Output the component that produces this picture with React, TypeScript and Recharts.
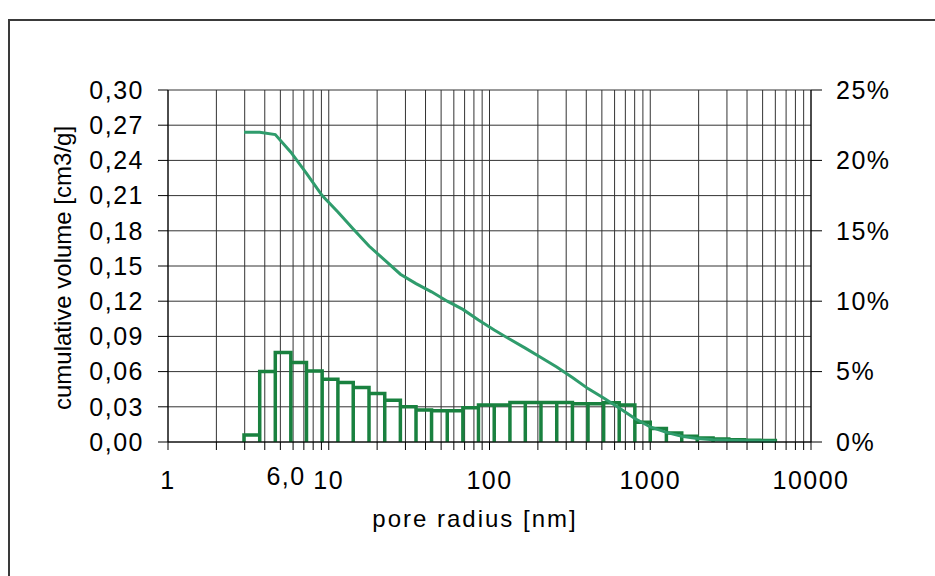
import { ComposedChart, Line, XAxis, YAxis, CartesianGrid } from "recharts";

// bin edges of the pore size histogram [nm]
const binEdges = [
  2.97, 3.72, 4.65, 5.81, 7.27, 9.1, 11.4, 14.2, 17.8, 22.3, 27.9, 34.9, 43.6, 54.6, 68.3, 85.4, 107, 134,
  167, 209, 262, 328, 410, 513, 641, 802, 1000, 1260, 1570, 1960, 2460, 3080, 3850, 4810, 6000,
];

// relative volume per bin [%]
const binPercent = [
  0.5, 5.0, 6.35, 5.65, 5.05, 4.46, 4.23, 3.87, 3.45, 2.97, 2.5, 2.27, 2.22, 2.22, 2.43, 2.63, 2.63, 2.81,
  2.81, 2.81, 2.81, 2.71, 2.71, 2.78, 2.63, 1.4, 0.96, 0.64, 0.4, 0.28, 0.21, 0.16, 0.13, 0.1,
];

// cumulative volume at each bin edge [cm3/g]
const cumulativeVolume = [
  0.264, 0.264, 0.262, 0.247, 0.229, 0.21, 0.196, 0.1815, 0.167, 0.155, 0.143, 0.135, 0.128, 0.12, 0.113,
  0.104, 0.0955, 0.0875, 0.08, 0.072, 0.064, 0.055, 0.0455, 0.0375, 0.029, 0.02, 0.0128, 0.0082, 0.0048,
  0.003, 0.002, 0.0015, 0.0011, 0.0008, 0.0006,
];

const xTicks = [
  1, 2, 3, 4, 5, 6, 7, 8, 9, 10, 20, 30, 40, 50, 60, 70, 80, 90, 100, 200, 300, 400, 500, 600, 700, 800, 900,
  1000, 2000, 3000, 4000, 5000, 6000, 7000, 8000, 9000, 10000,
];
const xLabelled = [1, 10, 100, 1000, 10000];
const leftTicks = [0, 0.03, 0.06, 0.09, 0.12, 0.15, 0.18, 0.21, 0.24, 0.27, 0.3];
const rightTicks = [0, 5, 10, 15, 20, 25];
const modeLabel = { at: 6, text: "6,0" };

const FONT = '"Liberation Sans", Arial, sans-serif';
const BAR_COLOR = "#19813f";
const LINE_COLOR = "#2f9c6c";

const lineData = binEdges.map((r, i) => ({ r, vol: cumulativeVolume[i] }));

// hollow histogram bars as one outline: up the left edge, across, down the right edge
const barOutline = binPercent.flatMap((p, i) => [
  { r: binEdges[i], pct: 0 },
  { r: binEdges[i], pct: p },
  { r: binEdges[i + 1], pct: p },
  { r: binEdges[i + 1], pct: 0 },
]);

function XTick(props: any) {
  const { x, y, payload } = props;
  const v = payload.value;
  if (v === modeLabel.at) {
    return (
      <text x={x - 7} y={y} dy={31} textAnchor="middle" fontSize={25} fontFamily={FONT} fill="#000" letterSpacing={1.5}>
        {modeLabel.text}
      </text>
    );
  }
  if (!xLabelled.includes(v)) return null;
  return (
    <text x={x} y={y} dy={35} textAnchor="middle" fontSize={25} fontFamily={FONT} fill="#000" letterSpacing={1.5}>
      {v}
    </text>
  );
}

function YTitle() {
  return (
    <text
      x={62}
      y={268}
      transform="rotate(-90 62 268)"
      textAnchor="middle"
      dominantBaseline="central"
      fontSize={24}
      fontFamily={FONT}
      fill="#000"
    >
      cumulative volume [cm3/g]
    </text>
  );
}

function XTitle() {
  return (
    <text x={475} y={527} textAnchor="middle" fontSize={24} fontFamily={FONT} fill="#000" letterSpacing={2}>
      pore radius [nm]
    </text>
  );
}

export default function App() {
  return (
    <div style={{ position: "absolute", left: 0, top: 0, width: 935, height: 576, overflow: "hidden", background: "#fff" }}>
      <div
        style={{
          position: "absolute",
          left: 8,
          top: 19,
          width: 1000,
          height: 1000,
          border: "2px solid #3a3a3a",
        }}
      />
      <div style={{ position: "absolute", left: 0, top: 0 }}>
        <ComposedChart width={935} height={576} margin={{ top: 90, right: 0, bottom: 0, left: 0 }}>
          <CartesianGrid yAxisId="left" stroke="#333" strokeWidth={1} />
          <XAxis
            dataKey="r"
            type="number"
            scale="log"
            domain={[1, 10000]}
            ticks={xTicks}
            interval={0}
            allowDataOverflow
            height={134}
            tickSize={8}
            tickMargin={4}
            stroke="#000"
            tick={<XTick />}
            label={<XTitle />}
          />
          <YAxis
            yAxisId="left"
            domain={[0, 0.3]}
            ticks={leftTicks}
            interval={0}
            width={168}
            tickSize={10}
            tickMargin={14}
            stroke="#000"
            tick={{ fontSize: 25, fill: "#000", fontFamily: FONT, letterSpacing: 1.5 }}
            tickFormatter={(v: number) => v.toFixed(2).replace(".", ",")}
            label={<YTitle />}
          />
          <YAxis
            yAxisId="right"
            orientation="right"
            domain={[0, 25]}
            ticks={rightTicks}
            interval={0}
            width={124}
            tickSize={11}
            tickMargin={14}
            stroke="#000"
            tick={{ fontSize: 25, fill: "#000", fontFamily: FONT, letterSpacing: 1.5 }}
            tickFormatter={(v: number) => `${v}%`}
          />
          <Line
            yAxisId="right"
            data={barOutline}
            dataKey="pct"
            type="linear"
            stroke={BAR_COLOR}
            strokeWidth={3.5}
            strokeLinejoin="miter"
            dot={false}
            activeDot={false}
            isAnimationActive={false}
          />
          <Line
            yAxisId="left"
            data={lineData}
            dataKey="vol"
            type="linear"
            stroke={LINE_COLOR}
            strokeWidth={3}
            dot={false}
            activeDot={false}
            isAnimationActive={false}
          />
        </ComposedChart>
      </div>
    </div>
  );
}
